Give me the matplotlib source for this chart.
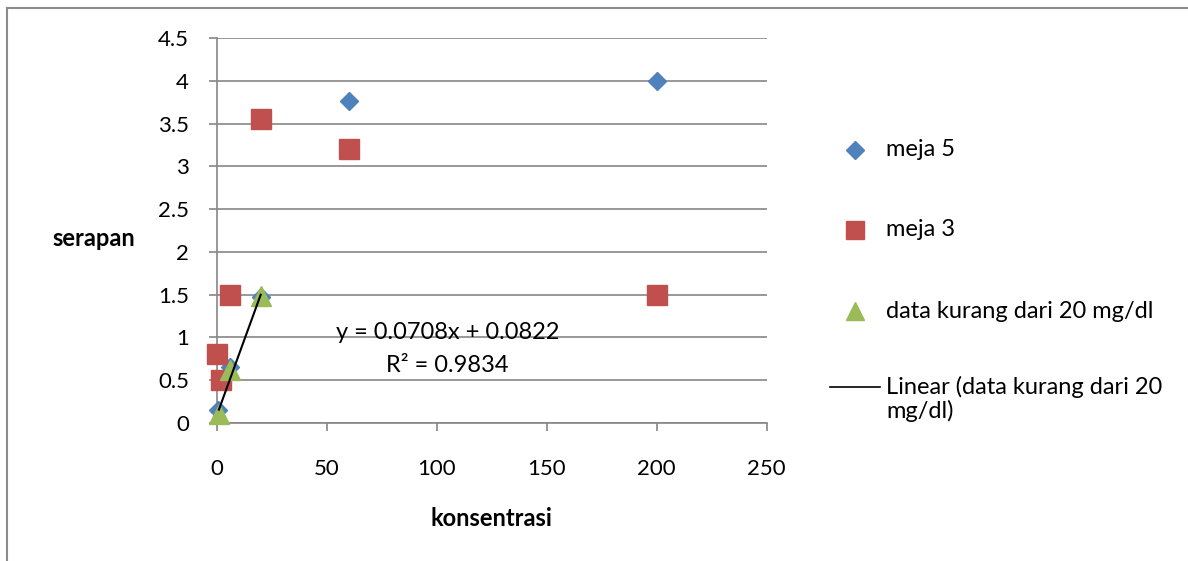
import matplotlib
matplotlib.use("Agg")
import matplotlib.pyplot as plt
from matplotlib.lines import Line2D

plt.rcParams['font.family'] = ['Lato', 'DejaVu Sans']

# Data
meja5_x = [0.5, 6, 20, 60, 200]
meja5_y = [0.15, 0.65, 1.47, 3.77, 4.0]
meja3_x = [0, 2, 6, 20, 60, 200]
meja3_y = [0.8, 0.5, 1.5, 3.55, 3.2, 1.5]
kurang_x = [1, 6, 20]
kurang_y = [0.1, 0.62, 1.48]
slope, intercept = 0.0708, 0.0822
eq_text = "y = 0.0708x + 0.0822"
r2_text = "R² = 0.9834"
xticks = [0, 50, 100, 150, 200, 250]
yticks = [0, 0.5, 1, 1.5, 2, 2.5, 3, 3.5, 4, 4.5]
ytick_labels = ["0", "0.5", "1", "1.5", "2", "2.5", "3", "3.5", "4", "4.5"]

BLUE = "#4F81BD"
RED = "#C0504D"
GREEN = "#9BBB59"
GRID = "#868686"
FS = 17
TFS = 16

fig = plt.figure(figsize=(11.88, 5.61), dpi=100)
ax = fig.add_axes([0.1824, 0.2465, 0.4630, 0.6852])

ax.plot(meja5_x, meja5_y, linestyle='none', marker='D', markersize=9.5,
        color=BLUE, zorder=3, clip_on=False)
ax.plot(meja3_x, meja3_y, linestyle='none', marker='s', markersize=14,
        color=RED, zorder=3, clip_on=False)
ax.plot(kurang_x, kurang_y, linestyle='none', marker='^', markersize=15,
        color=GREEN, zorder=4, clip_on=False)
lx = [min(kurang_x), max(kurang_x)]
ax.plot(lx, [slope * v + intercept for v in lx], color='black', lw=1.5, zorder=5)

ax.set_xlim(0, 250)
ax.set_ylim(0, 4.5)
ax.set_xticks(xticks)
ax.set_xticklabels([str(t) for t in xticks])
ax.set_yticks(yticks)
ax.set_yticklabels(ytick_labels)
ax.grid(axis='y', color=GRID, lw=1.2)
ax.set_axisbelow(True)
for s in ['top', 'right']:
    ax.spines[s].set_visible(False)
for s in ['left', 'bottom']:
    ax.spines[s].set_color(GRID)
    ax.spines[s].set_linewidth(1.2)
ax.tick_params(axis='both', direction='out', length=6, width=1.2, color=GRID,
               labelsize=TFS)
ax.tick_params(axis='x', pad=20)
ax.tick_params(axis='y', pad=14)

ax.text(105, 1.06, eq_text, fontsize=FS, ha='center', va='center')
ax.text(105, 0.675, r2_text, fontsize=FS, ha='center', va='center')

fig.text(94 / 1188, 1 - 238 / 561, "serapan", fontsize=FS, fontweight='bold',
         ha='center', va='center')
fig.text(491 / 1188, 1 - 518 / 561, "konsentrasi", fontsize=FS, fontweight='bold',
         ha='center', va='center')

# Legend (manual)
W, H = 1188, 561
def fx(px):
    return px / W
def fy(py):
    return 1 - py / H

leg = [
    ('D', BLUE, 9.5, 150, "meja 5"),
    ('s', RED, 13, 230, "meja 3"),
    ('^', GREEN, 13, 311, "data kurang dari 20 mg/dl"),
]
for m, c, ms, py, lab in leg:
    fig.add_artist(Line2D([fx(855)], [fy(py)], marker=m, markersize=ms, color=c,
                          linestyle='none', transform=fig.transFigure))
    fig.text(fx(886), fy(py), lab, fontsize=FS, ha='left', va='center')
fig.add_artist(Line2D([fx(830), fx(880)], [fy(387), fy(387)], color='black', lw=1.2,
                      transform=fig.transFigure))
fig.text(fx(886), fy(387), "Linear (data kurang dari 20", fontsize=FS, ha='left', va='center')
fig.text(fx(886), fy(411), "mg/dl)", fontsize=FS, ha='left', va='center')

# Chart border (cropped)
fig.add_artist(Line2D([fx(7), 1.0], [fy(8), fy(8)], color='#8C8C8C', lw=1.5,
                      transform=fig.transFigure))
fig.add_artist(Line2D([fx(7), fx(7)], [fy(8), 0.0], color='#8C8C8C', lw=1.5,
                      transform=fig.transFigure))

fig.savefig("out.png", dpi=100)
